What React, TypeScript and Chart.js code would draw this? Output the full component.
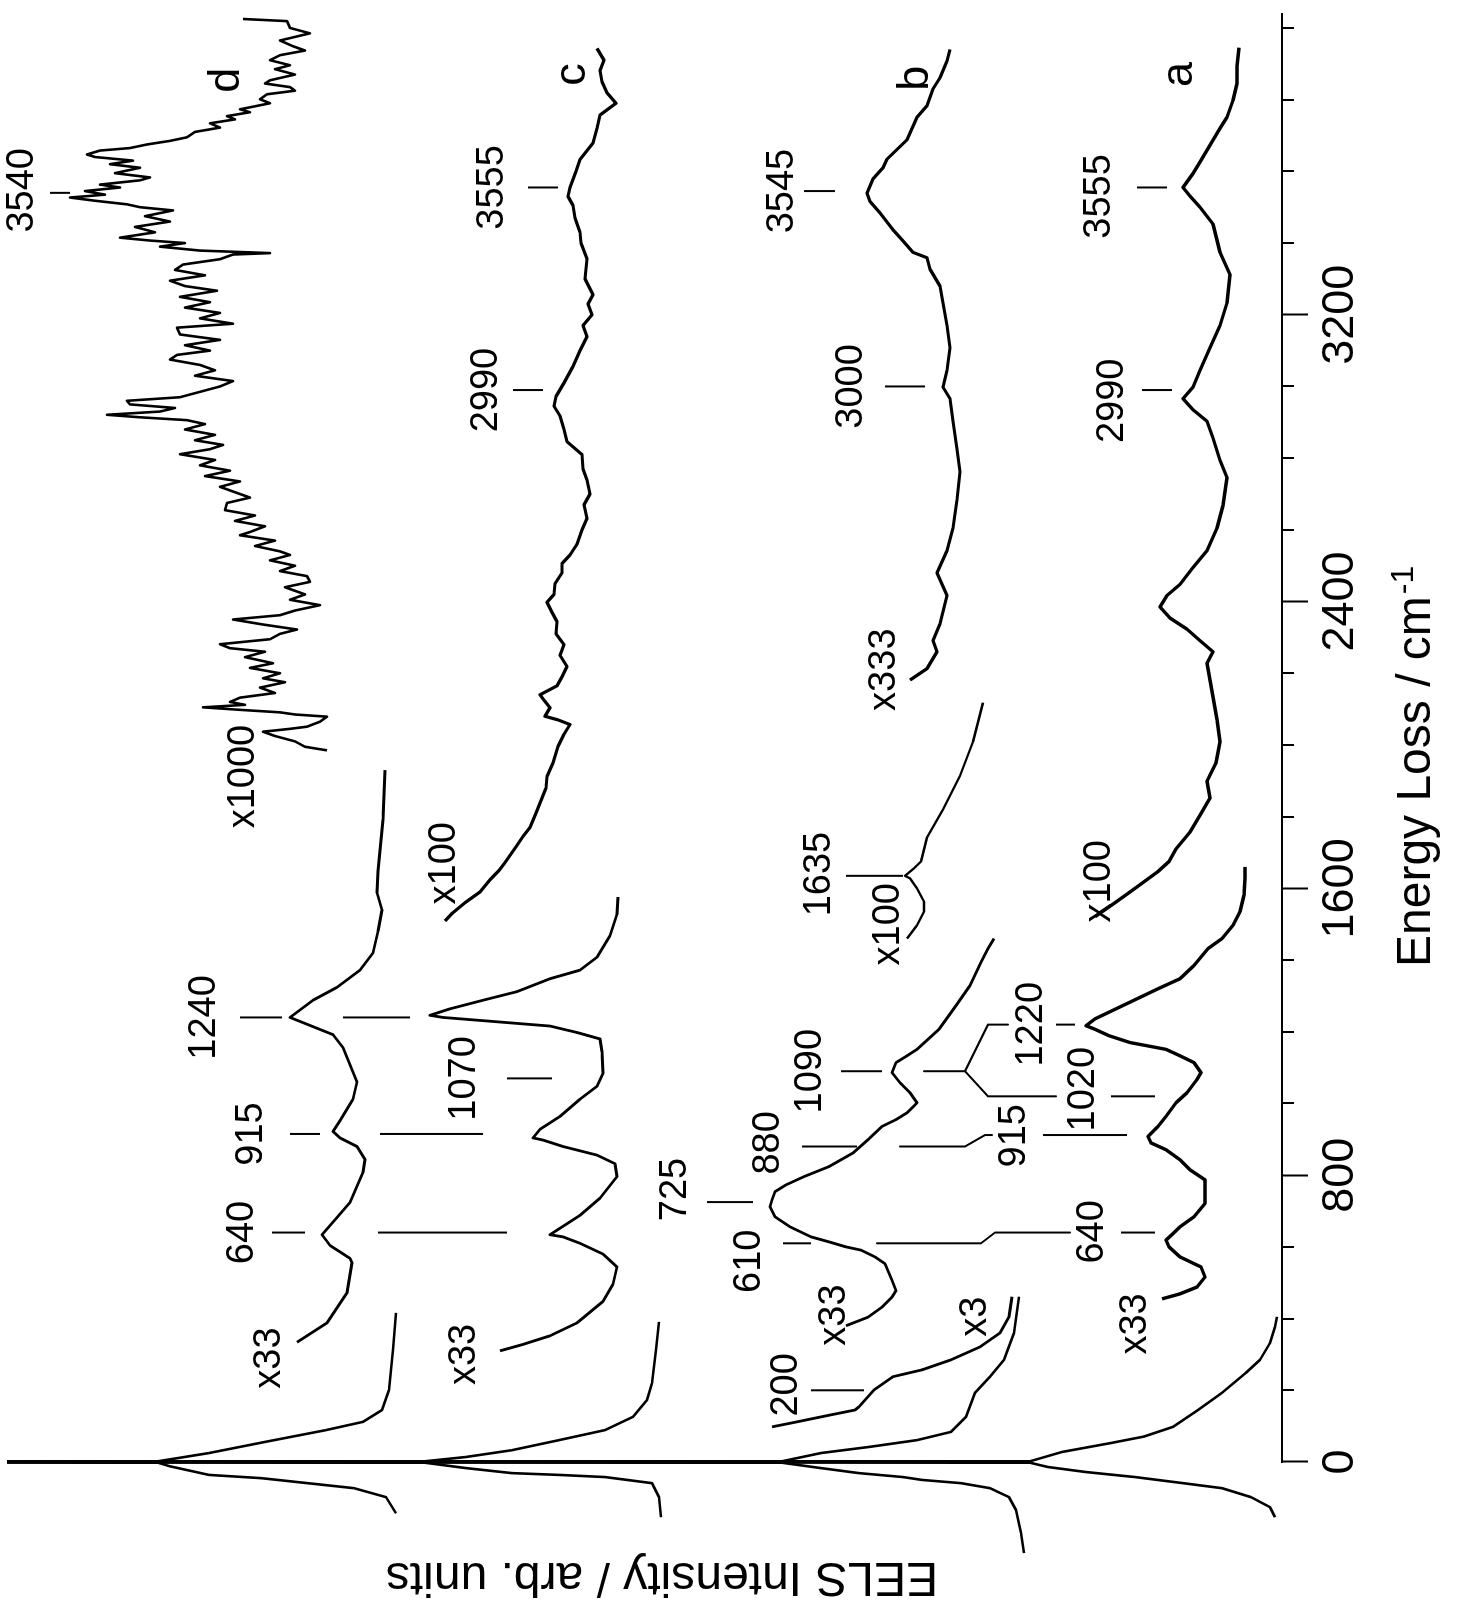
import React, { useEffect, useRef } from 'react';
import { Chart, registerables } from 'chart.js';

Chart.register(...registerables);

// ---------- axis ticks ----------
const MAJOR_TICKS = [0, 800, 1600, 2400, 3200];
const MINOR_TICKS = [200, 400, 600, 1000, 1200, 1400, 1800, 2000, 2200, 2600, 2800, 3000, 3400, 3600, 3800, 4000];
const X_MIN = 0;
const X_MAX = 4040;
const Y_MIN = -2;
const Y_MAX = 1270;

// ---------- spectrum d (top) ----------
const dElasticE = [-143, -98, -73, -45, -36, -12, -2, 0, 2, 25, 56, 89, 112, 145, 201, 313, 416];
const dElasticI = [884, 894, 926, 1019, 1071, 1110, 1122, 1400, 1122, 1071, 1015, 954, 917, 898, 891, 887, 884];
const dX33E = [334, 388, 472, 556, 568, 604, 634, 682, 724, 808, 844, 880, 904, 922, 952, 1012, 1060, 1108, 1156, 1192, 1240, 1288, 1324, 1372, 1420, 1480, 1540, 1588, 1648, 1792, 1930];
const dX33I = [983, 953, 933, 928, 930, 950, 958, 943, 930, 917, 915, 923, 940, 947, 940, 927, 923, 930, 937, 947, 990, 967, 943, 920, 907, 902, 898, 903, 902, 897, 895];
const dX1000E = [1985, 1995, 2010, 2025, 2037, 2045, 2051, 2065, 2079, 2085, 2091, 2098, 2105, 2112, 2120, 2132, 2145, 2160, 2175, 2186, 2200, 2215, 2228, 2245, 2260, 2270, 2281, 2295, 2310, 2322, 2336, 2350, 2362, 2375, 2390, 2405, 2420, 2440, 2455, 2471, 2485, 2500, 2515, 2530, 2540, 2555, 2570, 2585, 2594, 2610, 2625, 2640, 2655, 2675, 2690, 2703, 2720, 2735, 2750, 2765, 2780, 2795, 2811, 2825, 2837, 2850, 2865, 2880, 2895, 2906, 2914, 2921, 2930, 2940, 2950, 2960, 2970, 2985, 3000, 3015, 3030, 3045, 3060, 3075, 3088, 3100, 3115, 3130, 3145, 3164, 3175, 3190, 3205, 3220, 3235, 3250, 3267, 3280, 3295, 3310, 3325, 3340, 3355, 3368, 3372, 3379, 3390, 3400, 3407, 3415, 3430, 3445, 3460, 3475, 3491, 3500, 3508, 3518, 3527, 3535, 3545, 3555, 3563, 3575, 3583, 3595, 3610, 3620, 3630, 3640, 3647, 3658, 3665, 3675, 3685, 3695, 3710, 3722, 3734, 3745, 3754, 3765, 3773, 3790, 3801, 3815, 3825, 3835, 3845, 3854, 3870, 3885, 3896, 3910, 3924, 3937, 3949, 3965, 3985, 4000, 4019, 4025];
const dX1000I = [953, 975, 985, 1005, 1017, 990, 973, 960, 953, 985, 1000, 1040, 1077, 1035, 1050, 1040, 1005, 1020, 995, 1017, 1000, 1030, 1007, 1035, 1015, 1050, 1060, 1010, 1000, 983, 1017, 1047, 1000, 985, 960, 990, 975, 995, 970, 973, 1000, 985, 1010, 990, 1000, 1025, 1005, 1040, 1030, 1015, 1045, 1025, 1055, 1053, 1030, 1043, 1060, 1040, 1075, 1050, 1080, 1065, 1100, 1070, 1057, 1085, 1065, 1095, 1075, 1093, 1140, 1173, 1120, 1105, 1150, 1153, 1100, 1080, 1060, 1047, 1085, 1065, 1080, 1110, 1103, 1070, 1095, 1060, 1100, 1103, 1047, 1080, 1060, 1095, 1070, 1100, 1063, 1095, 1110, 1075, 1105, 1097, 1060, 1047, 1010, 1080, 1120, 1095, 1130, 1160, 1125, 1145, 1110, 1135, 1107, 1140, 1153, 1185, 1210, 1175, 1195, 1160, 1180, 1140, 1130, 1165, 1140, 1170, 1147, 1185, 1193, 1180, 1150, 1133, 1110, 1093, 1085, 1060, 1070, 1045, 1053, 1030, 1040, 1010, 1020, 1013, 985, 990, 1015, 1010, 985, 1005, 990, 1010, 1000, 975, 987, 1000, 970, 990, 993, 1037];

// ---------- spectrum c ----------
const cElasticE = [-154, -98, -59, -42, -36, -31, -17, -2, 0, 2, 14, 33, 61, 89, 126, 173, 220, 313, 391];
const cElasticI = [619, 621, 628, 675, 721, 768, 814, 855, 1400, 855, 814, 768, 721, 675, 647, 633, 628, 624, 621];
const cX33E = [310, 328, 352, 388, 448, 496, 544, 580, 610, 628, 634, 652, 688, 736, 796, 832, 856, 880, 898, 904, 928, 964, 1012, 1048, 1084, 1144, 1180, 1198, 1216, 1240, 1246, 1264, 1288, 1312, 1348, 1372, 1408, 1468, 1528, 1576];
const cX33I = [780, 757, 730, 703, 677, 667, 663, 677, 700, 717, 730, 720, 700, 680, 663, 665, 683, 717, 737, 747, 740, 720, 700, 683, 677, 678, 680, 703, 730, 837, 850, 830, 797, 763, 730, 700, 683, 670, 663, 662];
const cX100E = [1509, 1530, 1560, 1590, 1624, 1650, 1672, 1700, 1720, 1745, 1770, 1810, 1852, 1880, 1912, 1950, 1996, 2030, 2057, 2070, 2080, 2104, 2125, 2140, 2165, 2190, 2219, 2250, 2280, 2310, 2344, 2370, 2398, 2420, 2450, 2480, 2506, 2530, 2560, 2600, 2632, 2670, 2700, 2739, 2770, 2810, 2846, 2880, 2918, 2945, 2972, 3010, 3056, 3100, 3139, 3170, 3200, 3230, 3256, 3300, 3356, 3400, 3430, 3470, 3505, 3530, 3555, 3600, 3633, 3679, 3720, 3757, 3790, 3819, 3850, 3881, 3910, 3943];
const cX100I = [835, 828, 815, 800, 790, 781, 775, 768, 763, 757, 750, 744, 738, 734, 733, 727, 722, 716, 710, 722, 735, 730, 736, 740, 723, 718, 713, 720, 716, 724, 723, 728, 733, 726, 725, 718, 718, 710, 703, 698, 693, 696, 690, 693, 697, 698, 713, 716, 720, 726, 724, 716, 707, 700, 693, 697, 688, 692, 687, 695, 693, 699, 700, 705, 707, 712, 710, 704, 700, 687, 683, 680, 664, 673, 678, 680, 676, 683];

// ---------- spectrum b ----------
const bElasticE = [-254, -198, -134, -98, -73, -59, -50, -42, -31, -17, -2, 0, 2, 25, 42, 61, 84, 126, 193, 238, 285, 360, 461];
const bElasticI = [256, 259, 264, 271, 290, 319, 358, 377, 421, 459, 498, 1400, 498, 459, 411, 363, 329, 314, 305, 290, 276, 266, 261];
const bX3E = [98, 112, 131, 145, 154, 201, 238, 257, 285, 321, 360, 405, 461];
const bX3I = [508, 483, 450, 425, 421, 406, 387, 358, 329, 300, 280, 271, 268];
const bX33E = [380, 404, 432, 460, 478, 507, 553, 572, 591, 600, 614, 628, 656, 684, 712, 731, 754, 773, 796, 824, 862, 899, 936, 955, 974, 993, 1002, 1030, 1058, 1086, 1114, 1133, 1151, 1207, 1273, 1329, 1394, 1432, 1460];
const bX33I = [434, 412, 398, 388, 384, 388, 395, 405, 419, 434, 451, 469, 490, 505, 510, 508, 505, 494, 476, 451, 427, 412, 398, 384, 373, 366, 363, 370, 380, 388, 384, 373, 363, 341, 324, 310, 299, 292, 286];
const bX100E = [1460, 1497, 1535, 1563, 1600, 1628, 1635, 1656, 1675, 1742, 1820, 1914, 2009, 2118];
const bX100I = [373, 363, 356, 356, 363, 370, 375, 366, 359, 353, 337, 320, 307, 297];
const bX333E = [2181, 2213, 2260, 2291, 2338, 2417, 2480, 2542, 2605, 2684, 2762, 2825, 2903, 2966, 2998, 3045, 3108, 3170, 3233, 3280, 3327, 3359, 3374, 3406, 3437, 3484, 3516, 3539, 3579, 3610, 3634, 3688, 3751, 3783, 3830, 3861, 3908, 3940];
const bX333I = [370, 353, 343, 347, 340, 333, 343, 333, 327, 323, 320, 323, 327, 330, 337, 333, 330, 333, 337, 340, 350, 353, 367, 377, 387, 400, 410, 413, 407, 397, 393, 373, 363, 353, 347, 340, 333, 330];

// ---------- spectrum a (bottom) ----------
const aElasticE = [-154, -126, -98, -73, -59, -42, -28, -14, -2, 0, 2, 28, 53, 71, 98, 145, 193, 249, 285, 332, 377, 405];
const aElasticI = [5, 10, 29, 58, 97, 145, 194, 232, 250, 1400, 250, 218, 169, 136, 107, 82, 58, 34, 20, 10, 5, 3];
const aX33E = [455, 469, 488, 516, 544, 572, 600, 619, 637, 656, 684, 721, 759, 787, 815, 843, 871, 890, 908, 936, 964, 1002, 1030, 1067, 1086, 1114, 1133, 1151, 1170, 1189, 1207, 1217, 1236, 1264, 1292, 1320, 1348, 1385, 1432, 1460, 1497, 1535, 1581, 1628, 1660];
const aX33I = [118, 100, 83, 75, 79, 100, 111, 114, 107, 100, 86, 75, 75, 75, 90, 100, 114, 129, 132, 122, 114, 104, 93, 83, 79, 86, 100, 114, 150, 171, 185, 194, 185, 164, 143, 122, 100, 86, 72, 58, 47, 40, 36, 35, 35];
const aX100E = [1521, 1560, 1600, 1647, 1675, 1710, 1757, 1804, 1852, 1899, 1950, 2009, 2071, 2134, 2181, 2228, 2260, 2291, 2323, 2354, 2385, 2417, 2448, 2495, 2542, 2605, 2668, 2746, 2794, 2856, 2903, 2935, 2966, 2998, 3045, 3108, 3170, 3233, 3312, 3374, 3453, 3500, 3531, 3555, 3594, 3626, 3673, 3720, 3751, 3798, 3845, 3893, 3945];
const aX100I = [185, 165, 145, 122, 111, 104, 90, 80, 70, 73, 64, 60, 63, 67, 70, 73, 67, 80, 93, 110, 120, 113, 100, 87, 73, 63, 57, 53, 60, 67, 73, 87, 97, 87, 80, 70, 60, 53, 50, 60, 67, 80, 90, 97, 87, 80, 70, 60, 53, 47, 43, 43, 41];

// ---------- peak markers and connectors: [energy, intensity] ----------
const MARKER_LINES: number[][][] = [
  [[3540, 1210], [3540, 1230]],
  [[1240, 998], [1240, 1040]],
  [[915, 960], [915, 990]],
  [[640, 975], [640, 1008]],
  [[1240, 870], [1240, 937]],
  [[915, 797], [915, 900]],
  [[640, 773], [640, 902]],
  [[1070, 728], [1070, 773]],
  [[2990, 737], [2990, 767]],
  [[3555, 722], [3555, 752]],
  [[200, 416], [200, 469]],
  [[610, 469], [610, 497]],
  [[725, 527], [725, 573]],
  [[880, 423], [880, 478]],
  [[1090, 398], [1090, 439]],
  [[1635, 377], [1635, 434]],
  [[3000, 355], [3000, 395]],
  [[3545, 445], [3545, 476]],
  [[610, 403], [610, 299], [640, 285], [640, 210]],
  [[880, 380], [880, 315], [912, 295], [912, 288]],
  [[1090, 356], [1090, 315], [1220, 292], [1220, 272]],
  [[1090, 315], [1020, 292], [1020, 224]],
  [[1220, 205], [1220, 224]],
  [[1020, 125], [1020, 169]],
  [[912, 153], [912, 237]],
  [[640, 125], [640, 159]],
  [[2990, 108], [2990, 138]],
  [[3555, 113], [3555, 143]],
];

// ---------- text labels ----------
const LABEL_TEXT = ['d', '3540', 'x1000', '1240', '915', '640', 'x33',
  'c', '3555', '2990', 'x100', '1070', 'x33',
  'b', '3545', '3000', 'x333', '1635', 'x100', '1090', '880', '725', '610', '200', 'x33', 'x3',
  'a', '3555', '2990', 'x100', '1220', '1020', '915', '640', 'x33'];
const LABEL_E = [3854, 3547, 1912, 1240, 915, 640, 290,
  3870, 3555, 2990, 1670, 1070, 300,
  3860, 3545, 3000, 2210, 1640, 1500, 1090, 890, 760, 560, 215, 410, 405,
  3870, 3530, 2960, 1620, 1221, 1040, 910, 642, 385];
const LABEL_I = [1053, 1257, 1036, 1075, 1028, 1037, 1010,
  707, 787, 793, 835, 815, 815,
  364, 497, 428, 395, 460, 391, 469, 511, 604, 530, 493, 445, 304,
  100, 180, 167, 180, 248, 196, 265, 187, 144];
const LABEL_SIZE = [45, 38, 38, 38, 38, 38, 38,
  45, 38, 38, 38, 38, 38,
  45, 38, 38, 38, 38, 38, 38, 38, 38, 38, 38, 38, 38,
  45, 38, 38, 38, 38, 38, 38, 38, 38];

const X_TITLE = 'Energy Loss / cm';
const X_TITLE_SUP = '-1';
const Y_TITLE = 'EELS Intensity / arb. units';
const FONT = '"Liberation Sans", Arial, Helvetica, sans-serif';

const CW = 1606; // canvas width (becomes page height after rotation)
const CH = 1458; // canvas height (becomes page width)

function trace(E: number[], I: number[], width: number) {
  return {
    data: E.map((e, k) => ({ x: e, y: I[k] })),
    borderColor: '#000',
    backgroundColor: '#000',
    borderWidth: width,
    pointRadius: 0,
    pointHoverRadius: 0,
    fill: false,
    tension: 0,
    borderJoinStyle: 'round' as const,
    clip: { left: 200, top: 3, right: 10, bottom: 20 },
  };
}

const overlayPlugin = {
  id: 'overlay',
  afterDraw(chart: any) {
    const { ctx, chartArea } = chart;
    const xs = chart.scales.x;
    const ys = chart.scales.y;
    ctx.save();
    // minor ticks
    ctx.strokeStyle = '#000';
    ctx.lineWidth = 2;
    MINOR_TICKS.forEach((v) => {
      const px = Math.round(xs.getPixelForValue(v));
      ctx.beginPath();
      ctx.moveTo(px, chartArea.bottom);
      ctx.lineTo(px, chartArea.bottom + 12);
      ctx.stroke();
    });
    // annotation labels
    ctx.fillStyle = '#000';
    ctx.textAlign = 'center';
    ctx.textBaseline = 'middle';
    LABEL_TEXT.forEach((t, k) => {
      ctx.font = `${LABEL_SIZE[k]}px ${FONT}`;
      ctx.fillText(t, xs.getPixelForValue(LABEL_E[k]), ys.getPixelForValue(LABEL_I[k]));
    });
    // x title with superscript
    ctx.textAlign = 'left';
    ctx.textBaseline = 'alphabetic';
    ctx.font = `48px ${FONT}`;
    const tx = 639;
    ctx.fillText(X_TITLE, tx, 1430);
    const w = ctx.measureText(X_TITLE).width;
    ctx.font = `32px ${FONT}`;
    ctx.fillText(X_TITLE_SUP, tx + w + 2, 1413);
    // y title (rotated)
    ctx.translate(43, 662);
    ctx.rotate(-Math.PI / 2);
    ctx.textAlign = 'center';
    ctx.font = `48px ${FONT}`;
    ctx.fillText(Y_TITLE, 0, 0);
    ctx.restore();
  },
};

export default function App() {
  const ref = useRef<HTMLCanvasElement | null>(null);

  useEffect(() => {
    const canvas = ref.current;
    if (!canvas) return;
    const datasets: any[] = [
      trace(dElasticE, dElasticI, 2.6),
      trace(dX33E, dX33I, 2.8),
      trace(dX1000E, dX1000I, 2.6),
      trace(cElasticE, cElasticI, 2.6),
      trace(cX33E, cX33I, 2.8),
      trace(cX100E, cX100I, 3.2),
      trace(bElasticE, bElasticI, 2.6),
      trace(bX3E, bX3I, 2.8),
      trace(bX33E, bX33I, 2.8),
      trace(bX100E, bX100I, 2.4),
      trace(bX333E, bX333I, 3.2),
      trace(aElasticE, aElasticI, 2.6),
      trace(aX33E, aX33I, 3.4),
      trace(aX100E, aX100I, 3.4),
      ...MARKER_LINES.map((pts) => trace(pts.map((p) => p[0]), pts.map((p) => p[1]), 2)),
    ];
    const chart = new Chart(canvas, {
      type: 'line',
      data: { datasets },
      plugins: [overlayPlugin],
      options: {
        animation: false,
        responsive: false,
        devicePixelRatio: 1,
        events: [],
        layout: { padding: { left: 144, right: 13.6, top: 10, bottom: 0 } },
        plugins: { legend: { display: false }, tooltip: { enabled: false }, title: { display: false } },
        scales: {
          x: {
            type: 'linear',
            position: 'bottom',
            bounds: 'data',
            afterDataLimits: (scale: any) => {
              scale.min = X_MIN;
              scale.max = X_MAX;
            },
            afterBuildTicks: (scale: any) => {
              scale.ticks = MAJOR_TICKS.map((v) => ({ value: v }));
            },
            afterFit: (scale: any) => {
              scale.height = 176;
            },
            ticks: {
              autoSkip: false,
              maxRotation: 0,
              minRotation: 0,
              padding: 6,
              color: '#000',
              font: { family: FONT, size: 45 },
              callback: (v: any) => String(v),
            },
            grid: {
              display: true,
              drawOnChartArea: false,
              drawTicks: true,
              tickLength: 26,
              tickWidth: 2,
              tickColor: '#000',
            },
            border: { display: true, color: '#000', width: 2 },
          },
          y: {
            type: 'linear',
            display: false,
            min: Y_MIN,
            max: Y_MAX,
          },
        },
      } as any,
    });
    return () => chart.destroy();
  }, []);

  return (
    <div style={{ position: 'absolute', left: 0, top: 0, width: 1458, height: 1606, overflow: 'hidden', background: '#fff' }}>
      <div
        style={{
          position: 'absolute',
          left: 0,
          top: 0,
          width: CW,
          height: CH,
          transformOrigin: '0 0',
          transform: `translate(0px, ${CW}px) rotate(-90deg)`,
        }}
      >
        <canvas ref={ref} width={CW} height={CH} style={{ display: 'block', width: CW, height: CH }} />
      </div>
    </div>
  );
}
